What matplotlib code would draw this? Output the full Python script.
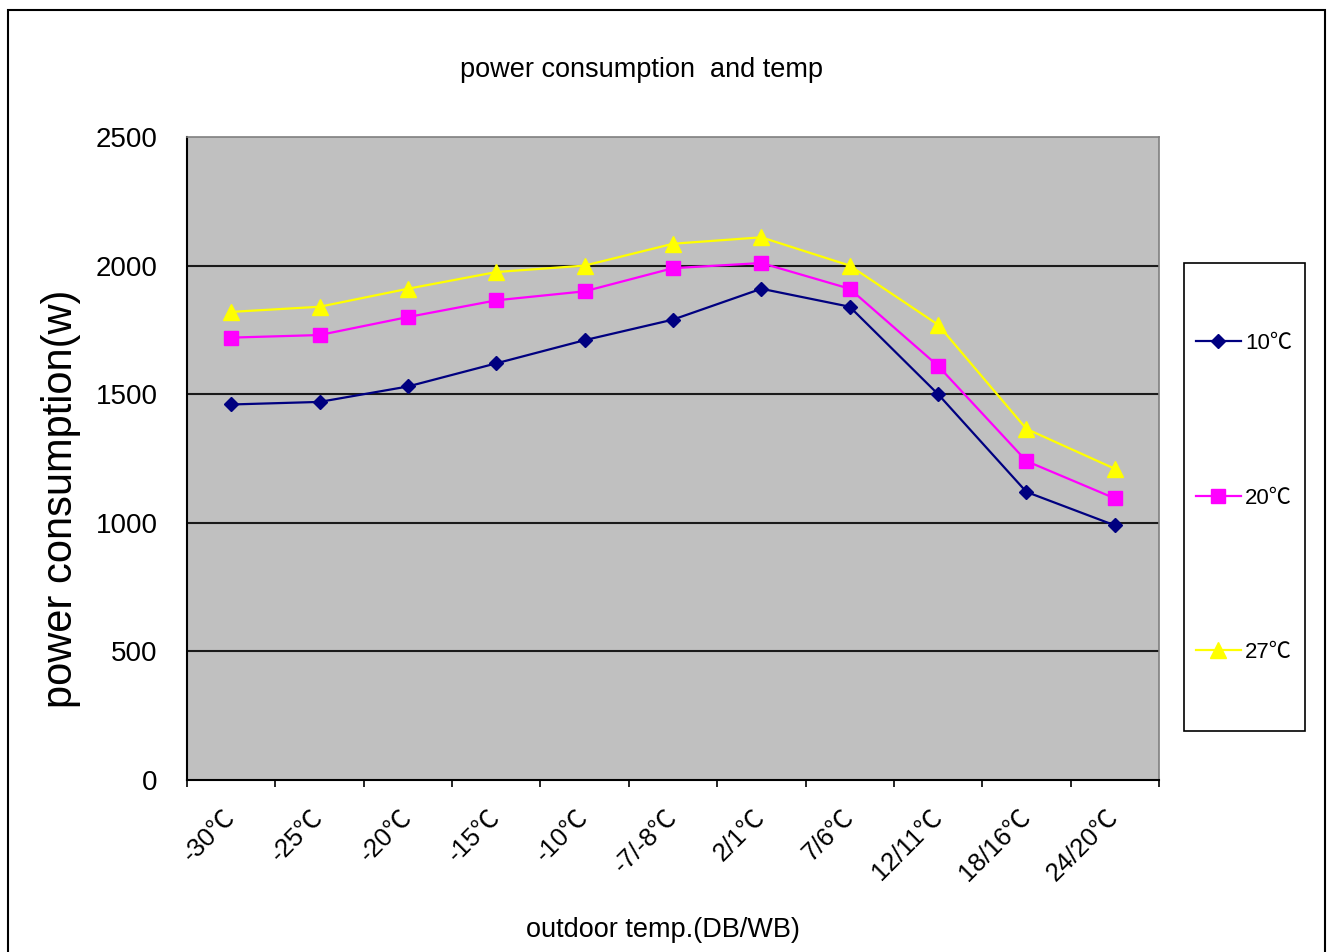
import matplotlib
matplotlib.use("Agg")
import matplotlib.pyplot as plt
from matplotlib.patches import Rectangle
from matplotlib.ticker import FixedLocator

# outdoor temperature conditions (DB/WB)
temps = ["-30℃", "-25℃", "-20℃", "-15℃", "-10℃", "-7/-8℃",
         "2/1℃", "7/6℃", "12/11℃", "18/16℃", "24/20℃"]

# power consumption (w) for each indoor temperature
p_10 = [1460, 1470, 1530, 1620, 1710, 1790, 1910, 1840, 1500, 1120, 990]
p_20 = [1720, 1730, 1800, 1865, 1900, 1990, 2010, 1910, 1610, 1240, 1095]
p_27 = [1820, 1840, 1910, 1975, 2000, 2085, 2110, 2000, 1770, 1365, 1210]

FONT = ["Liberation Sans", "Noto Sans CJK SC", "DejaVu Sans"]
plt.rcParams["font.family"] = FONT

fig = plt.figure(figsize=(13.27, 9.52), dpi=100)
W, H = 1327, 952
ax = fig.add_axes([187 / W, 1 - 780 / H, 972 / W, 643 / H])
ax.set_facecolor("#c0c0c0")

x = list(range(len(temps)))
ax.plot(x, p_10, color="#000080", lw=1.6, marker="D", ms=7.5, label="10℃", zorder=5)
ax.plot(x, p_20, color="#ff00ff", lw=1.6, marker="s", ms=10, label="20℃", zorder=4)
ax.plot(x, p_27, color="#ffff00", lw=1.6, marker="^", ms=11, label="27℃", zorder=3)

ax.set_xlim(-0.5, len(temps) - 0.5)
ax.set_ylim(0, 2500)
ax.set_yticks([0, 500, 1000, 1500, 2000, 2500])
for v in [500, 1000, 1500, 2000]:
    ax.axhline(v, color="#1a1a1a", lw=1.5, zorder=1)
ax.tick_params(axis="y", length=0, pad=21, labelsize=20)

ax.set_xticks(x)
ax.set_xticklabels(temps, rotation=45, ha="right", va="center",
                   rotation_mode="anchor", fontsize=18.5)
ax.tick_params(axis="x", which="major", length=0, pad=24)
ax.xaxis.set_minor_locator(FixedLocator([i - 0.5 for i in range(len(temps) + 1)]))
ax.tick_params(axis="x", which="minor", length=5, width=1.2, direction="out")

for side in ["left", "bottom"]:
    ax.spines[side].set_color("black")
    ax.spines[side].set_linewidth(1.5)
for side in ["top", "right"]:
    ax.spines[side].set_color("#808080")
    ax.spines[side].set_linewidth(1.2)

ax.set_ylabel("power consumption(w)", fontsize=30, va="center")
ax.yaxis.set_label_coords(-0.13, 0.437)
ax.set_xlabel("outdoor temp.(DB/WB)", fontsize=19.5)
ax.xaxis.set_label_coords(0.49, -0.213)
fig.text(642 / W, 1 - 70 / H, "power consumption  and temp", fontsize=19.5,
         ha="center", va="center")

# legend entries, with a tall box drawn around them
leg = ax.legend(loc="center left", bbox_to_anchor=(1194 / W, 1 - 498 / H),
                bbox_transform=fig.transFigure, fontsize=16, frameon=False,
                borderaxespad=0, borderpad=0.1, labelspacing=6.0,
                handlelength=2.0, handletextpad=0.2)
fig.patches.append(Rectangle((1184 / W, 1 - 731 / H), 121 / W, 468 / H,
                             transform=fig.transFigure, fill=False,
                             edgecolor="black", lw=1.2))

# outer chart border
fig.patches.append(Rectangle((8 / W, -0.01), 1317 / W, 1.01 - 10 / H,
                             transform=fig.transFigure, fill=False,
                             edgecolor="black", lw=1.5))

fig.savefig("out.png", dpi=100, facecolor="white")
